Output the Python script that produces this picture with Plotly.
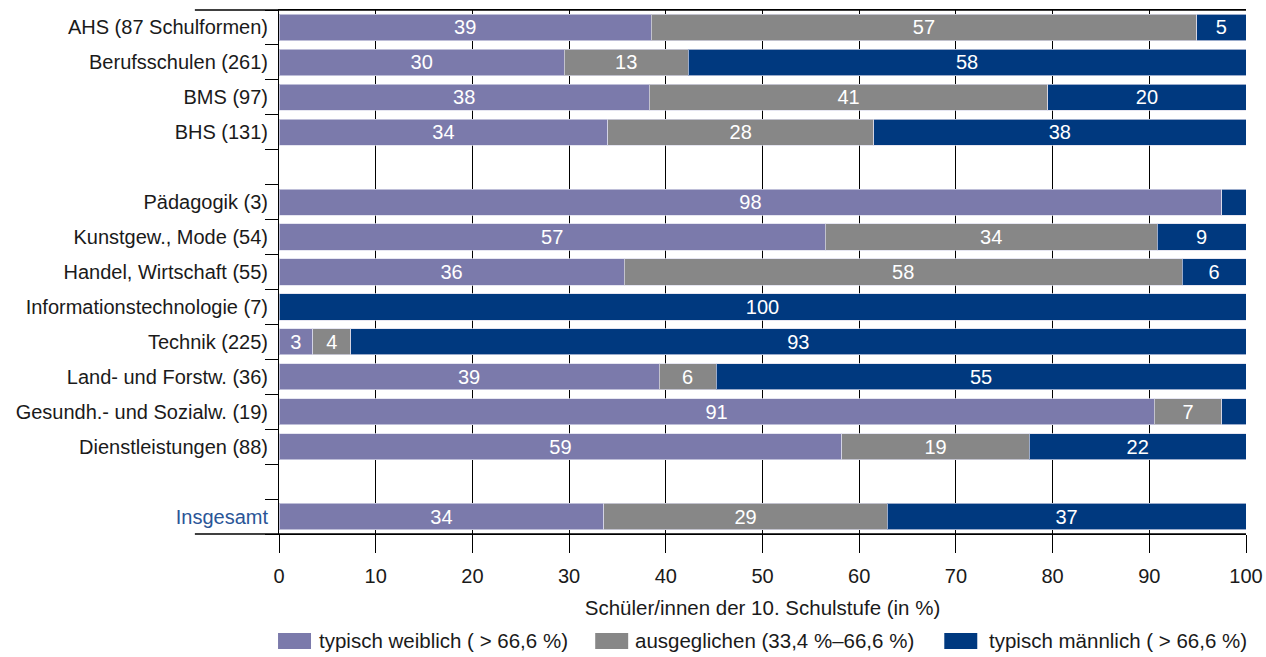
import plotly.graph_objects as go

categories = [
    "AHS (87 Schulformen)", "Berufsschulen (261)", "BMS (97)", "BHS (131)", " ",
    "Pädagogik (3)", "Kunstgew., Mode (54)", "Handel, Wirtschaft (55)",
    "Informationstechnologie (7)", "Technik (225)", "Land- und Forstw. (36)",
    "Gesundh.- und Sozialw. (19)", "Dienstleistungen (88)", "  ", "Insgesamt",
]
weiblich = [38.5, 29.5, 38.3, 34.0, None, 97.5, 56.5, 35.7, 0, 3.5, 39.3, 90.5, 58.2, None, 33.6]
ausgeglichen = [56.4, 12.8, 41.2, 27.5, None, 0, 34.3, 57.7, 0, 3.9, 5.9, 7.0, 19.4, None, 29.3]
maennlich = [5.1, 57.7, 20.5, 38.5, None, 2.5, 9.2, 6.6, 100, 92.6, 54.8, 2.5, 22.4, None, 37.1]
label_w = ["39", "30", "38", "34", "", "98", "57", "36", "", "3", "39", "91", "59", "", "34"]
label_a = ["57", "13", "41", "28", "", "", "34", "58", "", "4", "6", "7", "19", "", "29"]
label_m = ["5", "58", "20", "38", "", "", "9", "6", "100", "93", "55", "", "22", "", "37"]
series_names = ["typisch weiblich ( > 66,6 %)", "ausgeglichen (33,4 %–66,6 %)", "typisch männlich ( > 66,6 %)"]
colors = ["#7b7aab", "#878787", "#00397f"]
x_ticks = list(range(0, 101, 10))

# legend layout (paper coordinates): swatch left edges, text left edges
legend_swatch_x = [-0.001, 0.327, 0.688]
legend_text_x = [0.039, 0.366, 0.732]

FONT = "Liberation Sans"
tick_text = [c if c != "Insgesamt" else '<span style="color:#2a5597">Insgesamt</span>' for c in categories]

fig = go.Figure()
for vals, labels, name, col in zip([weiblich, ausgeglichen, maennlich], [label_w, label_a, label_m], series_names, colors):
    fig.add_trace(go.Bar(
        y=categories, x=vals, orientation="h", name=name, showlegend=False,
        marker=dict(color=col, line=dict(color="rgba(220,220,235,0.7)", width=1)),
        text=labels, textposition="inside", insidetextanchor="middle", textangle=0,
        textfont=dict(color="white", size=20, family=FONT),
        constraintext="none", cliponaxis=False, hoverinfo="skip",
    ))

fig.update_layout(
    barmode="stack", bargap=0.25,
    width=1266, height=657, autosize=False,
    margin=dict(l=279, r=20, t=10, b=123, autoexpand=False),
    plot_bgcolor="white", paper_bgcolor="white",
    font=dict(family=FONT, size=20, color="#1a1a1a"),
    xaxis=dict(range=[0, 100], tickvals=x_ticks, showgrid=True, gridcolor="black", gridwidth=1,
               ticks="outside", ticklen=18, tickcolor="black", showline=True, linecolor="black",
               mirror=True, zeroline=False, tickfont=dict(size=20), ticklabelstandoff=6,
               ticklabeloverflow="allow", automargin=False,
               title=dict(text="Schüler/innen der 10. Schulstufe (in %)", font=dict(size=20.5), standoff=14)),
    yaxis=dict(categoryorder="array", categoryarray=categories, autorange="reversed",
               tickvals=categories, ticktext=tick_text, tickfont=dict(size=20), automargin=False,
               tickson="boundaries", ticks="outside", ticklen=13, tickcolor="black",
               showline=True, linecolor="black", showgrid=False, ticklabelstandoff=6),
)
fig.add_shape(type="line", xref="paper", yref="paper", x0=-0.087, x1=1, y0=1, y1=1,
              line=dict(color="black", width=1.5))
fig.add_shape(type="line", xref="paper", yref="paper", x0=-0.087, x1=1, y0=0, y1=0,
              line=dict(color="black", width=1.5))

for sx, tx, name, col in zip(legend_swatch_x, legend_text_x, series_names, colors):
    fig.add_shape(type="rect", xref="paper", yref="paper", x0=sx, x1=sx + 0.0341,
                  y0=-0.2195, y1=-0.189, fillcolor=col, line=dict(width=0))
    fig.add_annotation(xref="paper", yref="paper", x=tx, y=-0.204, xanchor="left", yanchor="middle",
                       text=name, showarrow=False, font=dict(size=20.5, color="#1a1a1a"))

fig.write_html("out.html", config={"displayModeBar": False, "responsive": False},
               post_script="document.body.style.margin='0';document.body.style.overflow='hidden';")
